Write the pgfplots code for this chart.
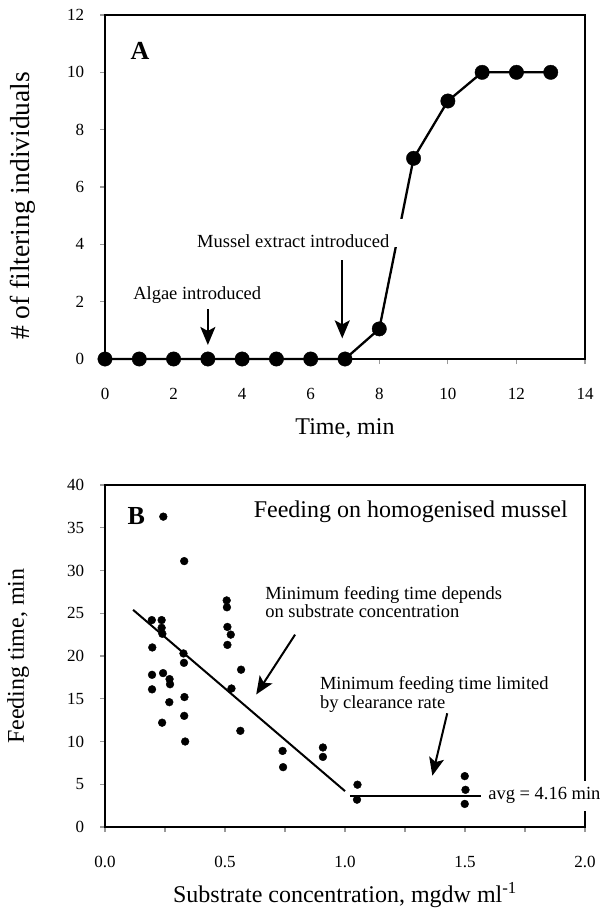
\documentclass[border=0pt]{standalone}
\usepackage{fontspec}
\setmainfont{Liberation Serif}
\usepackage{pgfplots}
\pgfplotsset{compat=1.18}
\usetikzlibrary{arrows.meta}

\newcommand\annfont{\fontsize{18.5}{18.7}\selectfont}
\tikzset{pointer/.style={line width=2pt, -{Stealth[length=18pt, width=15pt, inset=4pt]}}}

\pgfplotsset{
  panel/.style={
    scale only axis, width=480pt,
    separate axis lines,
    axis line style={line width=2.2pt, line cap=rect},
    tick align=outside, major tick length=5pt, minor tick length=5pt,
    every tick/.style={line width=1.2pt, black!40},
    xtick pos=bottom, ytick pos=left,
    tick label style={font=\fontsize{17}{17}\selectfont},
    /pgf/number format/assume math mode=true,
    xticklabel style={anchor=center, yshift=-30pt},
    yticklabel style={anchor=east, xshift=-12.3pt},
    label style={font=\fontsize{24}{24}\selectfont},
    clip=false,
  },
}

\begin{document}
\begin{tikzpicture}
\useasboundingbox (0,0) rectangle (601pt,-909pt);

% panel A
\begin{axis}[panel, at={(105pt,-359pt)}, anchor=south west, height=344pt,
  xmin=0, xmax=14, ymin=0, ymax=12,
  xtick={0,2,4,6,8,10,12,14}, ytick={0,2,4,6,8,10,12},
  xlabel={Time, min}, ylabel={\# of filtering individuals},
  xlabel style={at={(axis description cs:0.5,-0.2006)}, anchor=center},
  ylabel style={at={(axis description cs:-0.172,0.445)}, anchor=center,
    font=\fontsize{27.5}{27.5}\selectfont},
  ]
  \addplot[black, line width=2.3pt, mark=*, mark size=7.2pt,
    mark options={line width=0.4pt, fill=black}] coordinates {
    (0,0) (1,0) (2,0) (3,0) (4,0) (5,0) (6,0) (7,0)
    (8,1.05) (9,7) (10,9) (11,10) (12,10) (13,10)
  };
  \fill[white] (axis cs:8.36,3.92) rectangle (axis cs:8.8,4.9);
  \node[font=\fontsize{26}{26}\selectfont\bfseries] at (axis cs:1.02,10.75) {A};
  \node[font=\annfont] at (axis cs:2.69,2.22) {Algae introduced};
  \draw[pointer] (axis cs:3,1.73) -- (axis cs:3,0.49);
  \node[font=\annfont] at (axis cs:5.49,4.12) {Mussel extract introduced};
  \draw[pointer] (axis cs:6.92,3.45) -- (axis cs:6.92,0.72);
\end{axis}

% panel B
\begin{axis}[panel, at={(105pt,-827pt)}, anchor=south west, height=342pt,
  xmin=0, xmax=2, ymin=0, ymax=40,
  xtick={0,0.5,1,1.5,2}, minor xtick={0.25,0.75,1.25,1.75},
  ytick={0,5,10,15,20,25,30,35,40},
  xticklabel style={/pgf/number format/.cd, fixed, fixed zerofill, precision=1},
  xlabel={Substrate concentration, mgdw ml\textsuperscript{-1}},
  ylabel={Feeding time, min},
  xlabel style={at={(axis description cs:0.5,-0.199)}, anchor=center},
  ylabel style={at={(axis description cs:-0.181,0.5)}, anchor=center},
  ]
  \addplot[only marks, mark=*, mark size=3.9pt, black] coordinates {
    (0.243,36.3) (0.330,31.1) (0.195,24.2) (0.236,24.2) (0.236,23.3)
    (0.239,22.6) (0.197,21.0) (0.327,20.3) (0.329,19.2) (0.196,17.8)
    (0.242,18.0) (0.269,17.3) (0.271,16.7) (0.196,16.1) (0.268,14.6)
    (0.331,15.2) (0.238,12.2) (0.330,13.0) (0.334,10.0) (0.507,26.5)
    (0.508,25.7) (0.510,23.4) (0.524,22.5) (0.510,21.3) (0.567,18.4)
    (0.527,16.2) (0.564,11.25) (0.740,8.9) (0.742,7.0) (0.908,9.3)
    (0.908,8.2) (1.052,4.95) (1.050,3.2) (1.499,5.95) (1.502,4.35)
    (1.499,2.7)
  };
  \addplot[black, line width=2pt] coordinates {(0.117,25.4) (1.0,4.2)};
  \addplot[black, line width=2pt] coordinates {(1.02,3.67) (1.568,3.67)};
  \node[font=\fontsize{26}{26}\selectfont\bfseries] at (axis cs:0.13,36.4) {B};
  \node[font=\fontsize{24}{24}\selectfont] at (axis cs:1.274,36.9) {Feeding on homogenised mussel};
  \node[font=\annfont, align=left, anchor=west, inner sep=0pt] at (axis cs:0.667,26.3)
    {Minimum feeding time depends\\on substrate concentration};
  \draw[pointer] (axis cs:0.792,22.5) -- (axis cs:0.630,15.5);
  \node[font=\annfont, align=left, anchor=west, inner sep=0pt] at (axis cs:0.895,15.5)
    {Minimum feeding time limited\\by clearance rate};
  \draw[pointer] (axis cs:1.426,13.3) -- (axis cs:1.364,6.0);
  \node[font=\annfont, fill=white, anchor=west, inner xsep=2pt, inner ysep=7pt]
    at (axis cs:1.588,3.67) {avg = 4.16 min};
\end{axis}
\end{tikzpicture}
\end{document}
